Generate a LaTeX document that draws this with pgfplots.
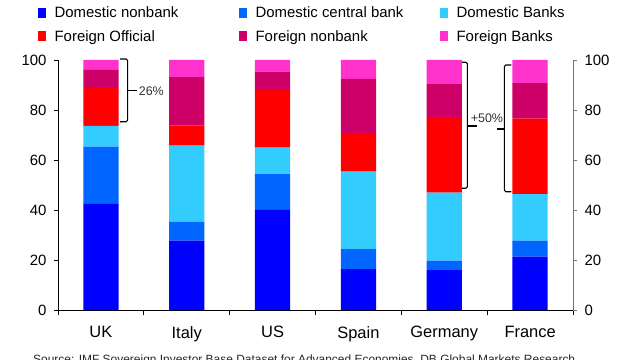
\documentclass[border=0pt]{standalone}
\usepackage{fontspec}
\setmainfont{Liberation Sans}
\usepackage{pgfplots}
\pgfplotsset{compat=1.18}
\definecolor{cDN}{HTML}{0000FF}
\definecolor{cDC}{HTML}{0066FF}
\definecolor{cDB}{HTML}{33CCFF}
\definecolor{cFO}{HTML}{FF0000}
\definecolor{cFN}{HTML}{CC0066}
\definecolor{cFB}{HTML}{FF33CC}
\begin{document}
\begin{tikzpicture}
\begin{axis}[
  at={(0,0)}, anchor=south west,
  scale only axis, width=515bp, height=250bp,
  ybar stacked, bar width=0.41,
  xmin=-0.5, xmax=5.5, ymin=0, ymax=100,
  clip=false,
  axis x line*=bottom, axis y line*=left,
  xtick={0,...,5}, xticklabels={UK,Italy,US,Spain,Germany,France},
  major x tick style={draw=none},
  minor xtick={-0.5,0.5,...,5.5},
  minor tick length=5bp, major tick length=4bp,
  tick align=outside,
  ytick={0,20,...,100},
  /pgf/number format/assume math mode=true,
  yticklabel style={font=\fontsize{15}{17}\selectfont, xshift=-4bp},
  xticklabel style={font=\fontsize{16.5}{18}\selectfont, yshift=-9bp},
  axis line style={black, line width=0.8bp},
  every tick/.style={black, line width=0.8bp},
  legend columns=3,
  legend style={at={(-0.039,1.212)}, anchor=north west, draw=none, fill=none,
    inner sep=0pt, row sep=10bp,
    font=\fontsize{15}{17}\selectfont,
    nodes={inner xsep=2.5bp, inner ysep=0pt, text height=10.5bp, text depth=3bp},
    /tikz/every odd column/.style={column sep=6bp},
    cells={anchor=west}},
  legend image code/.code={\fill[#1,draw=none] (0bp,-4bp) rectangle (8bp,6bp);},
  legend cell align=left,
]
\addplot[fill=cDN, draw=none] coordinates {(0,42.4) (1,27.7) (2,40.0) (3,16.3) (4,15.9) (5,21.3)};
\addplot[fill=cDC, draw=none] coordinates {(0,22.9) (1,7.6) (2,14.3) (3,8.0) (4,3.8) (5,6.4)};
\addplot[fill=cDB, draw=none] coordinates {(0,8.3) (1,30.4) (2,10.6) (3,31.0) (4,27.2) (5,18.6)};
\addplot[fill=cFO, draw=none] coordinates {(0,15.1) (1,8.0) (2,23.1) (3,15.0) (4,29.9) (5,30.2)};
\addplot[fill=cFN, draw=none] coordinates {(0,7.3) (1,19.4) (2,7.3) (3,22.1) (4,13.5) (5,14.2)};
\addplot[fill=cFB, draw=none] coordinates {(0,4.0) (1,6.9) (2,4.7) (3,7.6) (4,9.7) (5,9.3)};
\legend{\makebox[182bp][l]{Domestic nonbank},\makebox[182bp][l]{Domestic central bank},\makebox[182bp][l]{Domestic Banks},Foreign Official,Foreign nonbank,Foreign Banks}
% UK bracket
\draw[black, line width=1.1bp, rounded corners=1.5bp] (axis cs:0.2226,100.4) -- (axis cs:0.312,100.4) -- (axis cs:0.312,75.3) -- (axis cs:0.2226,75.3);
\draw[black, line width=1.1bp] (axis cs:0.312,87.7) -- (axis cs:0.417,87.7);
\node[anchor=west, inner sep=0pt, font=\fontsize{12.5}{14}\selectfont, text=black!80] at (axis cs:0.44,87.7) {26\%};
% Germany bracket
\draw[black, line width=1.1bp, rounded corners=1.5bp] (axis cs:4.2036,99.1) -- (axis cs:4.269,99.1) -- (axis cs:4.269,48.7) -- (axis cs:4.2036,48.7);
\draw[black, line width=1.1bp] (axis cs:4.269,73.6) -- (axis cs:4.378,73.6);
% France bracket
\draw[black, line width=1.1bp, rounded corners=1.5bp] (axis cs:4.781,98.0) -- (axis cs:4.7,98.0) -- (axis cs:4.7,47.3) -- (axis cs:4.781,47.3);
\draw[black, line width=1.1bp] (axis cs:4.7,72.4) -- (axis cs:4.611,72.4);
\node[inner sep=0pt, font=\fontsize{12.5}{14}\selectfont, text=black!80] at (axis cs:4.497,76.7) {+50\%};
\end{axis}
\begin{axis}[
  at={(0,0)}, anchor=south west,
  scale only axis, width=515bp, height=250bp,
  xmin=-0.5, xmax=5.5, ymin=0, ymax=100,
  axis x line=none, axis y line*=right,
  ytick={0,20,...,100}, tick align=outside, major tick length=4bp,
  /pgf/number format/assume math mode=true,
  yticklabel style={font=\fontsize{15}{17}\selectfont, xshift=4bp},
  axis line style={black!55, line width=0.8bp},
  every tick/.style={black!55, line width=0.8bp},
]
\end{axis}
\node[anchor=base west, inner sep=0pt, font=\fontsize{12}{14}\selectfont, text=black!85] at (-25bp,-53.6bp) {Source: IMF Sovereign Investor Base Dataset for Advanced Economies, DB Global Markets Research};
\pgfresetboundingbox
\path (-58bp,-50bp) rectangle (582bp,310bp);
\end{tikzpicture}
\end{document}
